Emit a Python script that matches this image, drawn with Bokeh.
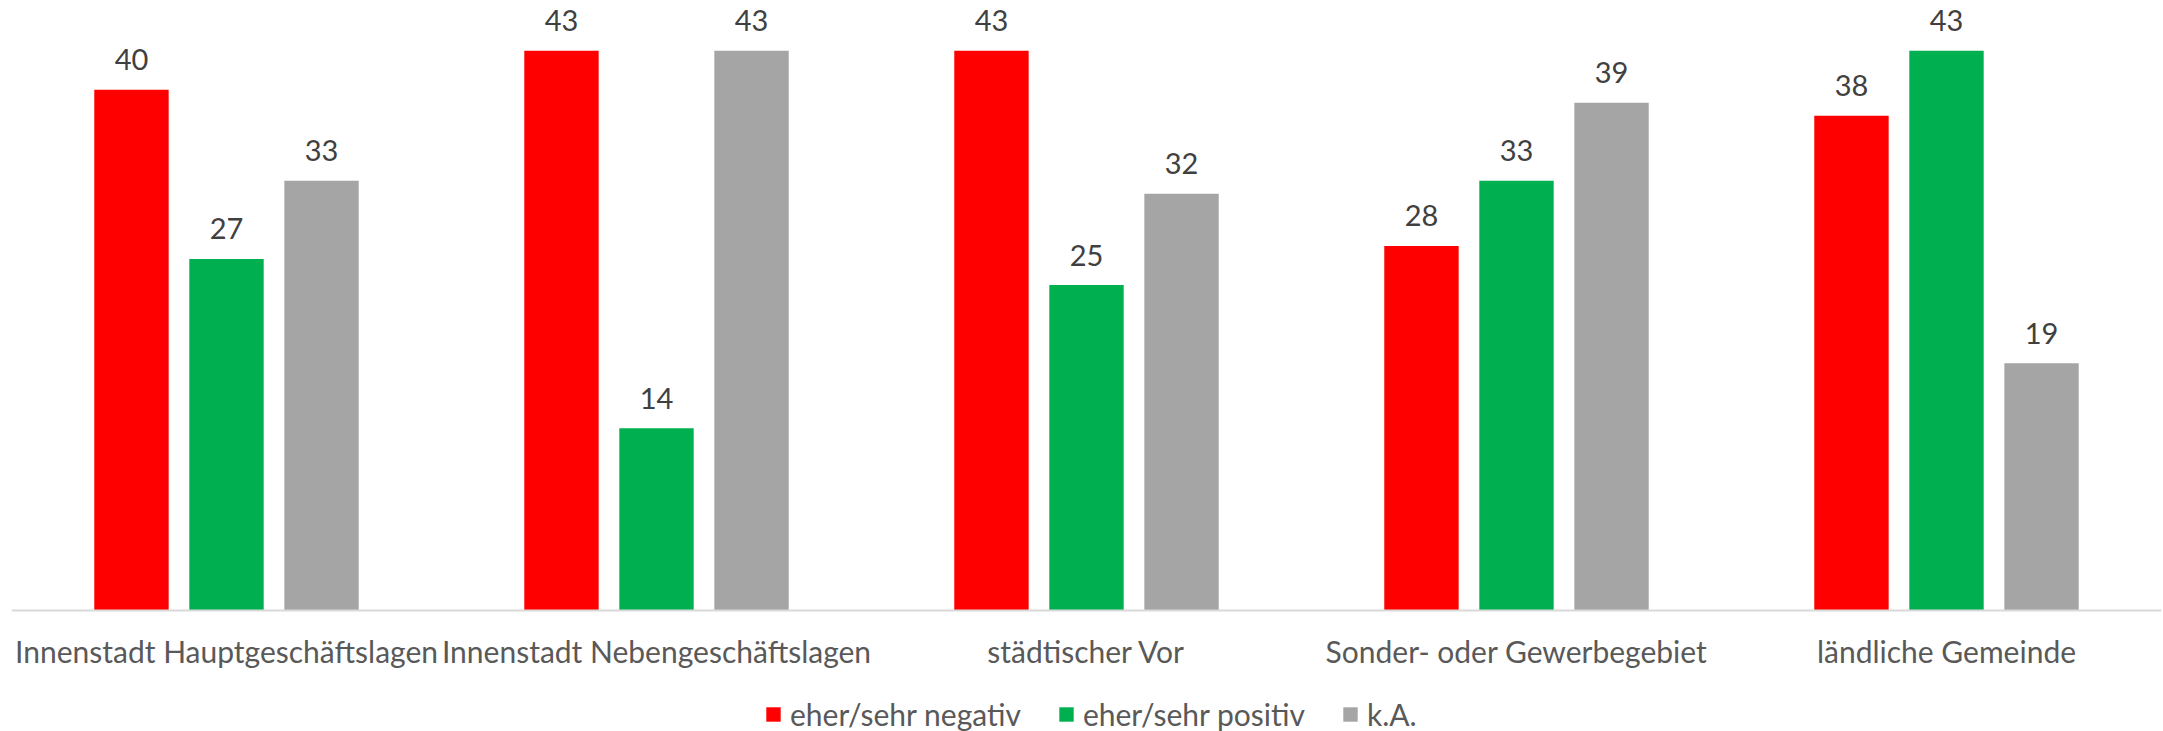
from bokeh.plotting import figure
from bokeh.models import ColumnDataSource, Range1d, FixedTicker, LabelSet, Legend, LegendItem
from bokeh.transform import dodge
from bokeh.core.properties import value
from bokeh.embed import file_html
from bokeh.resources import INLINE

categories = ["Innenstadt Hauptgeschäftslagen", "Innenstadt Nebengeschäftslagen",
              "städtischer Vor", "Sonder- oder Gewerbegebiet", "ländliche Gemeinde"]
series_names = ["eher/sehr negativ", "eher/sehr positiv", "k.A."]
negativ = [40, 43, 43, 28, 38]
positiv = [27, 14, 25, 33, 43]
ka = [33, 43, 32, 39, 19]
colors = ["#FF0000", "#00B050", "#A5A5A5"]

FONT = "Lato"

src = ColumnDataSource(dict(
    x=list(range(len(categories))),
    neg=negativ, pos=positiv, ka=ka,
    neg_t=[str(v) for v in negativ], pos_t=[str(v) for v in positiv], ka_t=[str(v) for v in ka],
))

p = figure(width=2163, height=731, output_backend="svg", toolbar_location=None,
           x_range=Range1d(-0.5, 4.5), y_range=Range1d(-9.29, 46.85),
           y_axis_location=None, min_border_left=11, min_border_right=2,
           min_border_top=0, min_border_bottom=0)
p.outline_line_color = None
p.xgrid.visible = False
p.ygrid.visible = False

off = 0.221
w = 0.173
fields = ["neg", "pos", "ka"]
offsets = [-off, 0, off]
renderers = []
for f, o, c in zip(fields, offsets, colors):
    r = p.vbar(x=dodge("x", o, range=p.x_range), top=f, width=w, bottom=0,
               source=src, fill_color=c, line_color=None)
    renderers.append(r)
    lbl = LabelSet(x=dodge("x", o, range=p.x_range), y=f, text=f + "_t", source=src,
                   y_offset=30, text_align="center", text_baseline="middle",
                   text_font=value(FONT), text_font_size="29px", text_color="#404040")
    p.add_layout(lbl)

ax = p.xaxis[0]
ax.fixed_location = 0
ax.ticker = FixedTicker(ticks=list(range(len(categories))))
ax.major_label_overrides = {i: c for i, c in enumerate(categories)}
ax.major_tick_in = 0
ax.major_tick_out = 0
ax.minor_tick_in = 0
ax.minor_tick_out = 0
ax.axis_line_color = "#D9D9D9"
ax.axis_line_width = 2
ax.major_label_standoff = 22
ax.major_label_text_font = FONT
ax.major_label_text_font_size = "30px"
ax.major_label_text_color = "#595959"

legend = Legend(items=[LegendItem(label=n, renderers=[r]) for n, r in zip(series_names, renderers)],
                orientation="horizontal", location=(753, -1),
                label_text_font=FONT, label_text_font_size="30px", label_text_color="#595959",
                glyph_width=18, glyph_height=18, label_standoff=8, spacing=36,
                padding=0, margin=0, border_line_color=None, background_fill_alpha=0)
p.add_layout(legend)

open("out.html", "w").write(file_html(p, INLINE))
